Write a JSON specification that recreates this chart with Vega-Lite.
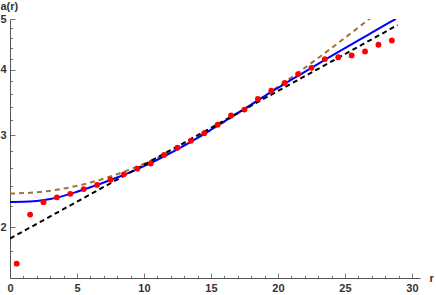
{
  "$schema": "https://vega.github.io/schema/vega-lite/v6.json",
  "autosize": "none",
  "padding": {"left": 10, "top": 19, "right": 16, "bottom": 17},
  "width": 410,
  "height": 259,
  "config": {
    "view": {"stroke": null},
    "axis": {
      "labelFont": "Liberation Sans",
      "labelFontWeight": "bold",
      "labelFontSize": 11,
      "labelColor": "#333333",
      "titleFont": "Liberation Sans",
      "titleFontWeight": "bold",
      "titleFontSize": 11,
      "titleColor": "#333333",
      "domainColor": "#555555",
      "tickColor": "#777777",
      "grid": false,
      "labelOverlap": false,
      "labelFlush": false,
      "labelBound": false
    }
  },
  "datasets": {
    "points": [
      {"r": 0.5, "a": 1.704}, {"r": 1.5, "a": 2.115}, {"r": 2.5, "a": 2.234}, {"r": 3.5, "a": 2.282},
      {"r": 4.5, "a": 2.317}, {"r": 5.5, "a": 2.366}, {"r": 6.5, "a": 2.41}, {"r": 7.5, "a": 2.465},
      {"r": 8.5, "a": 2.525}, {"r": 9.5, "a": 2.588}, {"r": 10.5, "a": 2.647}, {"r": 11.5, "a": 2.75},
      {"r": 12.5, "a": 2.838}, {"r": 13.5, "a": 2.925}, {"r": 14.5, "a": 3.026}, {"r": 15.5, "a": 3.141},
      {"r": 16.5, "a": 3.271}, {"r": 17.5, "a": 3.356}, {"r": 18.5, "a": 3.517}, {"r": 19.5, "a": 3.649},
      {"r": 20.5, "a": 3.776}, {"r": 21.5, "a": 3.924}, {"r": 22.5, "a": 4.034}, {"r": 23.5, "a": 4.191},
      {"r": 24.5, "a": 4.225}, {"r": 25.5, "a": 4.26}, {"r": 26.5, "a": 4.336}, {"r": 27.5, "a": 4.464},
      {"r": 28.5, "a": 4.551}
    ],
    "blue": [
      {"r": 0, "a": 2.235}, {"r": 1, "a": 2.237}, {"r": 2, "a": 2.246}, {"r": 3, "a": 2.264},
      {"r": 4, "a": 2.296}, {"r": 5, "a": 2.338}, {"r": 6, "a": 2.385}, {"r": 7, "a": 2.436},
      {"r": 8, "a": 2.49}, {"r": 9, "a": 2.55}, {"r": 10, "a": 2.618}, {"r": 11, "a": 2.692},
      {"r": 12, "a": 2.774}, {"r": 13, "a": 2.864}, {"r": 14, "a": 2.963}, {"r": 15, "a": 3.072},
      {"r": 16, "a": 3.188}, {"r": 17, "a": 3.308}, {"r": 18, "a": 3.432}, {"r": 19, "a": 3.562},
      {"r": 20, "a": 3.692}, {"r": 21, "a": 3.828}, {"r": 22, "a": 3.964}, {"r": 23, "a": 4.105},
      {"r": 24, "a": 4.251}, {"r": 25, "a": 4.398}, {"r": 26, "a": 4.551}, {"r": 27, "a": 4.708},
      {"r": 28, "a": 4.87}, {"r": 28.8, "a": 5.004}
    ],
    "brown": [
      {"r": 0, "a": 2.32}, {"r": 2, "a": 2.333}, {"r": 4, "a": 2.371}, {"r": 6, "a": 2.435},
      {"r": 8, "a": 2.526}, {"r": 10, "a": 2.645}, {"r": 12, "a": 2.792}, {"r": 14, "a": 2.97},
      {"r": 16, "a": 3.181}, {"r": 18, "a": 3.426}, {"r": 20, "a": 3.709}, {"r": 22, "a": 4.033},
      {"r": 24, "a": 4.401}, {"r": 26, "a": 4.817}, {"r": 26.9, "a": 5.021}
    ],
    "black": [
      {"r": 0, "a": 1.903}, {"r": 10, "a": 2.633}, {"r": 20, "a": 3.643}, {"r": 28.93, "a": 4.869}
    ]
  },
  "encoding": {
    "x": {
      "field": "r",
      "type": "quantitative",
      "scale": {"domain": [0, 30.6], "nice": false, "zero": false},
      "axis": {
        "title": "r",
        "titleAngle": 0,
        "titleAlign": "left",
        "titleBaseline": "middle",
        "titleX": 419,
        "titleY": 0,
        "values": [0,1,2,3,4,5,6,7,8,9,10,11,12,13,14,15,16,17,18,19,20,21,22,23,24,25,26,27,28,29,30],
        "labelExpr": "datum.value % 5 === 0 ? datum.label : ''",
        "tickSize": {"condition": {"test": "datum.value % 5 === 0", "value": -5}, "value": -2.7},
        "labelPadding": 9
      }
    },
    "y": {
      "field": "a",
      "type": "quantitative",
      "scale": {"type": "log", "domain": [1.6, 5], "nice": false, "zero": false},
      "axis": {
        "title": "a(r)",
        "titleAngle": 0,
        "titleAlign": "left",
        "titleBaseline": "middle",
        "titleX": -10,
        "titleY": -13,
        "values": [1.8, 2, 2.2, 2.4, 2.6, 2.8, 3, 3.2, 3.4, 3.6, 3.8, 4, 4.2, 4.4, 4.6, 4.8, 5],
        "labelExpr": "indexof([2,3,4,5], datum.value) >= 0 ? format(datum.value, 'd') : ''",
        "tickSize": {"condition": {"test": "indexof([2,3,4,5], datum.value) >= 0", "value": -5}, "value": -2.7},
        "labelPadding": 9
      }
    }
  },
  "layer": [
    {
      "data": {"name": "brown"},
      "mark": {"type": "line", "color": "#a0703f", "strokeWidth": 2, "strokeDash": [5, 4], "interpolate": "monotone", "clip": true}
    },
    {
      "data": {"name": "blue"},
      "mark": {"type": "line", "color": "#0000ff", "strokeWidth": 2, "interpolate": "monotone", "clip": true}
    },
    {
      "data": {"name": "black"},
      "mark": {"type": "line", "color": "#000000", "strokeWidth": 2, "strokeDash": [5, 3.5], "clip": true}
    },
    {
      "data": {"name": "points"},
      "mark": {"type": "circle", "color": "#ff0000", "opacity": 1, "size": 34, "clip": true}
    }
  ]
}
